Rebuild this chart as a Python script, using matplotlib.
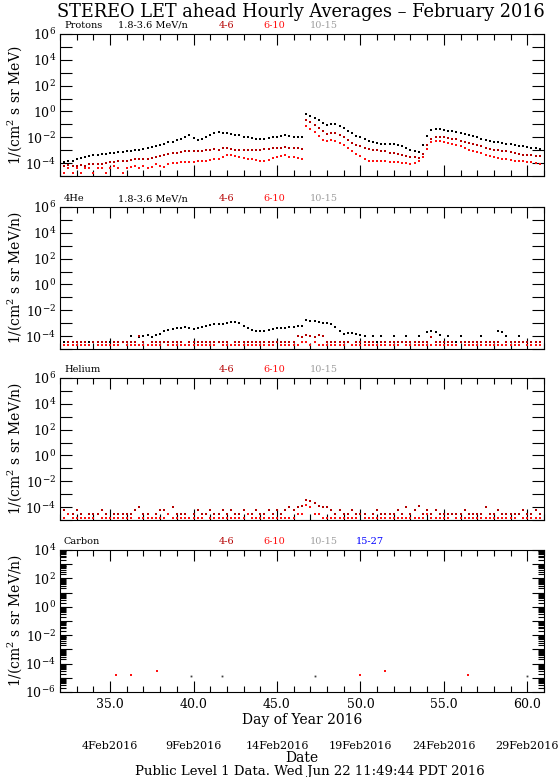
import numpy as np
import matplotlib.pyplot as plt
from matplotlib.ticker import FixedLocator, FuncFormatter, MultipleLocator, LogLocator, NullLocator, NullFormatter
import matplotlib.transforms as mtransforms

plt.rcParams['font.family'] = 'DejaVu Serif'
plt.rcParams['mathtext.fontset'] = 'dejavuserif'

nan = np.nan

# readings every 6 hours from DOY 32.0 (log10 of the intensity), one row per day
days = np.arange(32, 61, 0.25)

prot_18_36 = [
    -3.95, -3.9, -3.85, -3.8,    -3.7, -3.6, -3.5, -3.45,    -3.4, -3.35, -3.3, -3.28,
    -3.25, -3.2, -3.15, -3.15,   -3.1, -3.05, -3.0, -2.95,   -2.9, -2.85, -2.75, -2.7,
    -2.6, -2.5, -2.4, -2.35,     -2.2, -2.1, -1.95, -1.85,   -2.05, -2.2, -2.1, -2.0,
    -1.85, -1.65, -1.6, -1.65,   -1.7, -1.75, -1.8, -1.85,   -1.95, -2.0, -2.05, -2.1,
    -2.1, -2.1, -2.05, -2.0,     -1.95, -1.9, -1.85, -1.9,   -1.95, -2.0, -2.0, -0.2,
    -0.35, -0.5, -0.7, -0.9,     -1.05, -0.95, -1.0, -1.1,   -1.3, -1.5, -1.7, -1.9,
    -2.0, -2.15, -2.3, -2.4,     -2.45, -2.5, -2.5, -2.55,   -2.55, -2.6, -2.65, -2.8,
    -2.95, -3.1, -3.15, -2.6,    -1.9, -1.45, -1.38, -1.35,  -1.45, -1.5, -1.55, -1.6,
    -1.7, -1.75, -1.85, -1.9,    -2.0, -2.1, -2.2, -2.3,     -2.35, -2.4, -2.45, -2.5,
    -2.55, -2.6, -2.65, -2.7,    -2.75, -2.8, -2.85, -2.9,
]
prot_4_6 = [
    -4.2, -4.25, -4.15, -4.2,    -4.2, -4.15, -4.2, -4.1,    -4.1, -4.05, -4.1, -4.0,
    -3.95, -3.9, -3.85, -3.85,   -3.8, -3.75, -3.7, -3.7,    -3.65, -3.7, -3.6, -3.55,
    -3.45, -3.35, -3.3, -3.25,   -3.2, -3.15, -3.1, -3.1,    -3.1, -3.05, -3.05, -3.0,
    -2.95, -2.9, -2.95, -2.8,    -2.85, -2.9, -2.95, -2.95,  -3.0, -3.0, -2.95, -2.95,
    -2.95, -2.9, -2.9, -2.85,    -2.8, -2.8, -2.75, -2.8,    -2.85, -2.85, -2.9, -0.7,
    -0.85, -1.05, -1.3, -1.55,   -1.75, -1.65, -1.7, -1.8,   -2.0, -2.2, -2.45, -2.6,
    -2.7, -2.85, -2.9, -2.95,    -3.0, -3.05, -3.1, -3.2,    -3.25, -3.3, -3.4, -3.45,
    -3.5, -3.55, -3.6, -3.3,     -2.6, -2.1, -1.95, -1.95,   -2.0, -2.05, -2.1, -2.15,
    -2.25, -2.35, -2.45, -2.5,   -2.6, -2.7, -2.8, -2.9,     -2.95, -3.0, -3.05, -3.1,
    -3.15, -3.2, -3.3, -3.35,    -3.4, -3.4, -3.45, -3.45,
]
prot_6_10 = [
    -4.4, -4.75, -4.4, -4.75,    -4.4, -4.75, -4.4, -4.4,    -4.75, -4.4, -4.4, -4.75,
    -4.4, -4.2, -4.4, -4.75,     -4.4, -4.3, -4.2, -4.4,     -4.2, -4.4, -4.3, -4.1,
    -4.2, -4.3, -4.1, -4.0,      -4.0, -3.95, -3.9, -3.95,   -3.9, -3.85, -3.85, -3.8,
    -3.75, -3.7, -3.7, -3.5,     -3.35, -3.4, -3.45, -3.55,  -3.6, -3.7, -3.7, -3.75,
    -3.8, -3.8, -3.75, -3.6,     -3.5, -3.45, -3.4, -3.5,    -3.55, -3.6, -3.7, -1.1,
    -1.35, -1.6, -1.9, -2.2,     -2.3, -2.2, -2.3, -2.45,    -2.6, -2.85, -3.1, -3.3,
    -3.45, -3.65, -3.8, -3.85,   -3.85, -3.8, -3.85, -3.9,   -3.9, -3.95, -4.0, -4.0,
    -4.05, -4.0, -3.85, -3.5,    -2.9, -2.4, -2.3, -2.3,     -2.4, -2.45, -2.55, -2.6,
    -2.7, -2.8, -2.95, -3.05,    -3.15, -3.25, -3.35, -3.45, -3.5, -3.6, -3.65, -3.7,
    -3.75, -3.8, -3.85, -3.85,   -3.9, -3.95, -4.0, -4.1,
]

he4_18_36 = [
    -4.45, -4.45, -4.45, -4.45,  -4.45, -4.45, nan, -4.45,   -4.45, -4.45, -4.45, nan,
    -4.45, -4.45, -4.45, -4.45,  -4.45, -4.0, -4.45, -4.1,   -4.0, -3.95, -4.05, -3.9,
    -3.85, -3.6, -3.55, -3.45,   -3.4, -3.35, -3.3, -3.35,   -3.45, -3.4, -3.3, -3.2,
    -3.15, -3.1, -3.05, -3.05,   -3.0, -2.9, -2.9, -3.0,     -3.2, -3.35, -3.5, -3.6,
    -3.6, -3.6, -3.5, -3.45,     -3.4, -3.4, -3.35, -3.3,    -3.3, -3.25, -3.2, -2.75,
    -2.8, -2.85, -2.9, -2.95,    -3.0, -3.05, -3.3, -3.6,    -3.8, -3.75, -3.75, -3.85,
    -3.95, -4.0, -4.45, -4.0,    -4.45, -4.0, -4.45, -4.45,  -4.0, -4.45, -4.45, -4.0,
    -4.45, -4.45, -4.0, -4.45,   -3.7, -3.6, -3.65, -3.9,    -4.45, -4.0, -4.45, -4.45,
    -4.0, -4.45, -4.45, -4.45,   -4.45, -4.0, -4.45, -4.45,  -4.45, -3.6, -3.65, -4.0,
    -4.45, -4.45, -4.0, -4.45,   -4.45, -4.45, -4.45, -4.45,
]
he4_4_6 = [
    -4.45, nan, -4.45, -4.45,    -4.45, -4.45, -4.45, nan,   -4.45, -4.45, -4.45, -4.45,
    nan, -4.45, -4.45, -4.45,    -4.45, -4.45, -4.45, -4.0,  -4.45, nan, -4.45, -4.45,
    -4.45, -4.45, -4.45, -4.45,  -4.45, -4.45, nan, -4.45,   -4.45, -4.45, -4.45, -4.45,
    -4.45, -4.45, -4.45, -4.45,  -4.45, nan, -4.45, -4.45,   -4.45, -4.45, -4.45, -4.45,
    -4.45, -4.45, -4.45, -4.45,  -4.45, -4.45, -4.45, -4.45, -4.45, -4.0, -4.1, -3.9,
    -4.0, -4.1, -3.95, -4.0,     -4.45, -4.45, -4.45, -4.45, -4.45, -4.45, nan, -4.45,
    -4.45, -4.45, -4.45, -4.45,  nan, -4.45, -4.45, -4.45,   -4.45, -4.45, -4.45, -4.45,
    -4.45, -4.45, -4.45, -4.45,  -4.45, -4.1, -4.45, -4.45,  -4.45, -4.45, -4.45, nan,
    -4.45, -4.45, -4.45, -4.45,  -4.45, -4.45, -4.45, -4.45, -4.45, -4.45, nan, -4.45,
    -4.45, -4.45, -4.45, -4.45,  -4.45, -4.45, -4.45, -4.45,
]
he4_6_10 = [
    -4.72, -4.72, -4.72, -4.72,  -4.72, -4.72, -4.72, -4.72, nan, -4.72, -4.72, -4.72,
    -4.72, -4.72, -4.72, nan,    -4.72, -4.72, -4.72, -4.72, -4.72, -4.72, -4.72, -4.72,
    -4.72, nan, -4.72, -4.72,    -4.72, -4.72, -4.72, -4.72, -4.72, -4.72, -4.72, -4.72,
    -4.72, -4.72, nan, -4.72,    -4.72, -4.72, -4.72, -4.72, -4.72, -4.72, -4.72, -4.72,
    -4.72, -4.72, -4.72, -4.72,  nan, -4.72, -4.72, -4.72,   -4.72, -4.72, -4.45, -4.45,
    -4.72, -4.45, -4.72, -4.72,  -4.72, -4.72, -4.72, -4.72, -4.72, nan, -4.72, -4.72,
    -4.72, -4.72, -4.72, -4.72,  -4.72, -4.72, -4.72, -4.72, -4.72, -4.72, nan, -4.72,
    -4.72, -4.72, -4.72, -4.72,  -4.72, -4.72, -4.72, -4.72, -4.72, -4.72, -4.72, -4.72,
    nan, -4.72, -4.72, -4.72,    -4.72, -4.72, -4.72, -4.72, -4.72, -4.72, -4.72, -4.72,
    -4.72, -4.72, -4.72, nan,    -4.72, -4.72, -4.72, -4.72,
]

hel_4_6 = [
    -4.55, -4.25, -4.55, -4.55,  -4.25, -4.55, nan, -4.55,   -4.55, -4.55, -4.25, -4.55,
    nan, -4.55, -4.55, -4.55,    -4.55, -4.55, -4.25, -4.0,  -4.55, -4.55, nan, -4.55,
    -4.25, -4.25, -4.55, -4.0,   -4.55, -4.55, -4.55, nan,   -4.55, -4.25, -4.55, -4.55,
    -4.25, -4.55, -4.55, -4.25,  -4.55, -4.25, -4.55, -4.55, -4.25, -4.55, -4.55, -4.25,
    -4.55, -4.55, -4.25, -4.55,  -4.25, -4.55, -4.25, -4.0,  -4.25, -4.0, -3.9, -3.45,
    -3.55, -3.7, -3.9, -4.0,     -4.0, -4.25, -4.55, -4.25,  -4.55, -4.55, -4.25, -4.55,
    -4.55, -4.55, nan, -4.55,    -4.25, -4.55, -4.55, -4.55, -4.55, -4.25, -4.55, -4.0,
    -4.55, -4.25, -3.95, -4.55,  -4.2, -4.55, -4.25, -4.55,  -4.55, -4.55, -4.55, -4.55,
    -4.55, -4.25, -4.55, -4.55,  -4.55, -4.55, -4.0, -4.55,  -4.55, -4.25, -4.55, -4.55,
    -4.55, -4.55, -4.55, -4.25,  -4.55, -4.55, -4.25, -4.55,
]
hel_6_10 = [
    -4.88, -4.88, -4.55, -4.88,  -4.88, -4.88, -4.88, -4.88, -4.88, nan, -4.88, -4.88,
    -4.88, -4.88, -4.88, -4.88,  -4.88, -4.88, nan, -4.88,   -4.88, -4.88, -4.88, -4.88,
    -4.88, -4.88, -4.55, -4.88,  -4.88, -4.88, -4.88, -4.88, -4.88, -4.88, -4.88, nan,
    -4.88, -4.88, -4.88, -4.88,  -4.88, -4.88, -4.88, -4.88, -4.88, -4.55, -4.88, -4.88,
    -4.88, -4.88, -4.88, -4.88,  -4.88, -4.88, -4.88, -4.88, -4.88, -4.55, -4.55, -3.8,
    -4.0, -4.55, -4.55, -4.88,   -4.88, -4.88, -4.88, -4.88, -4.88, -4.88, -4.88, -4.88,
    nan, -4.88, -4.88, -4.88,    -4.88, -4.88, -4.88, -4.88, -4.88, -4.88, -4.88, -4.88,
    -4.88, -4.88, -4.88, -4.88,  -4.55, -4.88, -4.88, -4.88, -4.88, -4.88, nan, -4.88,
    -4.88, -4.88, -4.88, -4.88,  -4.88, -4.88, -4.88, -4.88, -4.88, -4.88, -4.88, -4.88,
    -4.88, -4.88, nan, -4.88,    -4.88, -4.88, -4.88, -4.88,
]

# carbon: only a handful of hours with counts
carb_4_6_day = [39.82, 41.71, 47.30, 60.00]
carb_4_6 = [-4.88, -4.88, -4.88, -4.88]
carb_6_10_day = [35.38, 36.28, 37.81, 49.98, 51.45, 56.42]
carb_6_10 = [-4.78, -4.78, -4.49, -4.78, -4.49, -4.78]

c_k = 'black'
c_dr = '#b40000'
c_r = '#ff1010'
c_gr = '#a0a0a0'
c_bl = '#0000ff'

date_days = [35, 40, 45, 50, 55, 60]
date_labels = ['4Feb2016', '9Feb2016', '14Feb2016', '19Feb2016', '24Feb2016', '29Feb2016']

W, H = 560, 777
fig = plt.figure(figsize=(W / 100, H / 100), dpi=100)


def panel(top, ylo, yhi, minor_log=False):
    ax = fig.add_axes([60 / W, 1 - (top + 142) / H, 484 / W, 142 / H])
    ax.set_yscale('log')
    ax.set_xlim(32, 61)
    ax.set_ylim(10.0 ** ylo, 10.0 ** yhi)
    exps = list(range(ylo, yhi + 1))
    ax.yaxis.set_major_locator(FixedLocator([10.0 ** e for e in exps]))
    ax.yaxis.set_major_formatter(FuncFormatter(
        lambda v, p: r'$10^{%d}$' % round(np.log10(v)) if round(np.log10(v)) % 2 == 0 else ''))
    if minor_log:
        ax.yaxis.set_minor_locator(LogLocator(base=10, subs=np.arange(2, 10), numticks=40))
    else:
        ax.yaxis.set_minor_locator(NullLocator())
    ax.yaxis.set_minor_formatter(NullFormatter())
    ax.xaxis.set_major_locator(MultipleLocator(5))
    ax.xaxis.set_minor_locator(MultipleLocator(1))
    ax.tick_params(which='both', direction='in', top=True, right=True, width=0.8)
    ax.tick_params(axis='y', which='major', length=8.5, labelsize=9, pad=3)
    ax.tick_params(axis='y', which='minor', length=4)
    ax.tick_params(axis='x', which='major', length=8, labelsize=9, pad=4)
    ax.tick_params(axis='x', which='minor', length=4)
    ax.xaxis.set_major_formatter(FuncFormatter(lambda v, p: '%.1f' % v))
    for s in ax.spines.values():
        s.set_linewidth(0.8)
    return ax


def dots(ax, x, logv, color, ms=2.0):
    ax.plot(x, 10.0 ** np.array(logv), 's', color=color, ms=ms, mew=0, linestyle='none')


def header(top, name, ranges):
    y = 1 - (top - 6) / H
    fig.text(64 / W, y, name, fontsize=7, color='black', va='baseline')
    for xpx, txt, col in ranges:
        fig.text(xpx / W, y, txt, fontsize=7, color=col, va='baseline')


def ylab(top, txt):
    fig.text(15 / W, 1 - (top + 71) / H, txt, rotation=90, ha='center', va='center', fontsize=10)


tops = [34, 207, 378, 550]

ax1 = panel(tops[0], -5, 6)
dots(ax1, days, prot_18_36, c_k)
dots(ax1, days, prot_4_6, c_dr)
dots(ax1, days, prot_6_10, c_r)
header(tops[0], 'Protons', [(118, '1.8-3.6 MeV/n', c_k), (219, '4-6', c_dr), (263, '6-10', c_r), (310, '10-15', c_gr)])
ylab(tops[0], r'1/(cm$^2$ s sr MeV)')

ax2 = panel(tops[1], -5, 6)
dots(ax2, days, he4_18_36, c_k)
dots(ax2, days, he4_4_6, c_dr, ms=1.7)
dots(ax2, days, he4_6_10, c_r, ms=1.7)
header(tops[1], '4He', [(118, '1.8-3.6 MeV/n', c_k), (219, '4-6', c_dr), (263, '6-10', c_r), (310, '10-15', c_gr)])
ylab(tops[1], r'1/(cm$^2$ s sr MeV/n)')

ax3 = panel(tops[2], -5, 6)
dots(ax3, days, hel_4_6, c_dr, ms=1.7)
dots(ax3, days, hel_6_10, c_r, ms=1.7)
header(tops[2], 'Helium', [(219, '4-6', c_dr), (263, '6-10', c_r), (310, '10-15', c_gr)])
ylab(tops[2], r'1/(cm$^2$ s sr MeV/n)')

ax4 = panel(tops[3], -6, 4, minor_log=True)
dots(ax4, carb_4_6_day, carb_4_6, '#404040', ms=1.3)
dots(ax4, carb_6_10_day, carb_6_10, c_r, ms=1.7)
header(tops[3], 'Carbon', [(219, '4-6', c_dr), (263, '6-10', c_r), (310, '10-15', c_gr), (356, '15-27', c_bl)])
ylab(tops[3], r'1/(cm$^2$ s sr MeV/n)')

for ax in (ax1, ax2, ax3):
    ax.tick_params(axis='x', labelbottom=False)

ax4.set_xlabel('Day of Year 2016', fontsize=10, labelpad=2)

trans = mtransforms.blended_transform_factory(ax4.transData, fig.transFigure)
for d, lab in zip(date_days, date_labels):
    fig.text(d, 1 - 746 / H, lab, transform=trans, ha='center', va='center', fontsize=8)
fig.text(302 / W, 1 - 758 / H, 'Date', ha='center', va='center', fontsize=10)
fig.text(310 / W, 1 - 771 / H, 'Public Level 1 Data. Wed Jun 22 11:49:44 PDT 2016',
         ha='center', va='center', fontsize=9.5)

fig.text(301 / W, 1 - 12 / H, 'STEREO LET ahead Hourly Averages \u2013 February 2016',
         ha='center', va='center', fontsize=12.8)

fig.savefig('out.png', dpi=100)
